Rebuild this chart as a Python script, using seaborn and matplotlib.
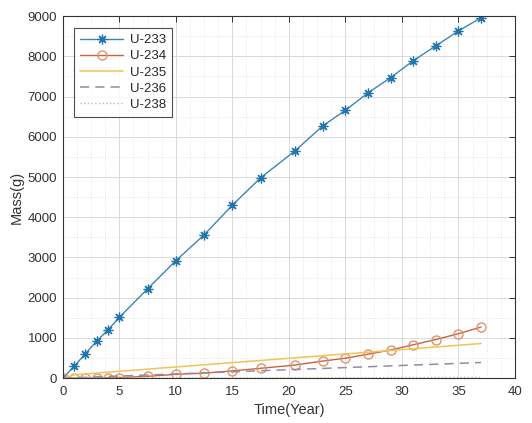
import numpy as np
import pandas as pd
import matplotlib
matplotlib.use("Agg")
import matplotlib.pyplot as plt
import seaborn as sns
from matplotlib.ticker import MultipleLocator

# datos
time_year = [0, 1, 2, 3, 4, 5, 7.5, 10, 12.5, 15, 17.5, 20.5, 23, 25, 27, 29, 31, 33, 35, 37]
u233 = [0, 290, 610, 920, 1200, 1510, 2220, 2920, 3560, 4300, 4980, 5640, 6270, 6660,
        7090, 7470, 7890, 8260, 8630, 8960]
u234 = [0, 2, 4, 7, 10, 15, 45, 95, 125, 180, 245, 325, 425, 495, 595, 700, 830, 960,
        1105, 1270]
u235 = [0, 84, 105, 127, 148, 170, 224, 278, 332, 386, 440, 505, 559, 602, 645, 688,
        732, 775, 818, 861]
u236 = [0, 11, 21, 32, 42, 53, 79, 105, 132, 158, 184, 216, 242, 263, 284, 305, 326,
        347, 368, 390]
u238 = [0, 1, 1, 2, 2, 3, 4, 5, 6, 7, 8, 9, 10, 11, 12, 13, 14, 15, 16, 17]

df = pd.DataFrame({"Time": time_year, "U-233": u233, "U-234": u234,
                   "U-235": u235, "U-236": u236, "U-238": u238})

sns.set_style("white")
plt.rcParams["font.family"] = ["Liberation Sans", "DejaVu Sans"]

fig = plt.figure(figsize=(5.32, 4.23), dpi=100)
ax = fig.add_axes([0.118, 0.106, 0.850, 0.856])

sns.lineplot(x="Time", y="U-233", data=df, ax=ax, color="#3a86b4", lw=1.0,
             marker=(8, 2, 0), markersize=7, markeredgewidth=0.9,
             markeredgecolor="#2276ab", label="U-233")
sns.lineplot(x="Time", y="U-234", data=df, ax=ax, color="#c8643e", lw=1.0,
             marker="o", markersize=6.5, markerfacecolor="none",
             markeredgecolor="#e0946c", markeredgewidth=1.0, label="U-234")
sns.lineplot(x="Time", y="U-235", data=df, ax=ax, color="#f0c458", lw=1.1,
             label="U-235")
sns.lineplot(x="Time", y="U-236", data=df, ax=ax, color="#9a88a6", lw=1.1,
             dashes=False, label="U-236").lines[-1].set_dashes((6, 4))
sns.lineplot(x="Time", y="U-238", data=df, ax=ax, color="#b8c49a", lw=1.0,
             label="U-238").lines[-1].set_linestyle(":")

ax.set_xlim(0, 40)
ax.set_ylim(0, 9000)
ax.xaxis.set_major_locator(MultipleLocator(5))
ax.xaxis.set_minor_locator(MultipleLocator(1.25))
ax.yaxis.set_major_locator(MultipleLocator(1000))
ax.yaxis.set_minor_locator(MultipleLocator(500))

ax.grid(which="major", color="#d9d9d9", lw=0.7)
ax.grid(which="minor", color="#dedede", lw=0.6, ls=":")
ax.set_axisbelow(True)

for s in ax.spines.values():
    s.set_color("#333333")
    s.set_linewidth(0.8)
ax.tick_params(which="major", direction="in", length=4, width=0.7, top=True,
               right=True, labelsize=9.5, colors="#333333", labelcolor="#333333",
               pad=4)
ax.tick_params(axis="x", which="major", pad=6)
ax.tick_params(which="minor", length=0)

ax.set_xlabel("Time(Year)", fontsize=10.5, color="#333333", labelpad=3)
ax.set_ylabel("Mass(g)", fontsize=10.5, color="#333333", labelpad=3)

leg = ax.legend(loc="upper left", fontsize=9.5, frameon=True, fancybox=False,
                edgecolor="#222222", handlelength=3.3, borderpad=0.45,
                labelspacing=0.3, handletextpad=0.5, bbox_to_anchor=(0.01, 0.985))
leg.get_frame().set_linewidth(0.8)

fig.savefig("out.png", dpi=100)
